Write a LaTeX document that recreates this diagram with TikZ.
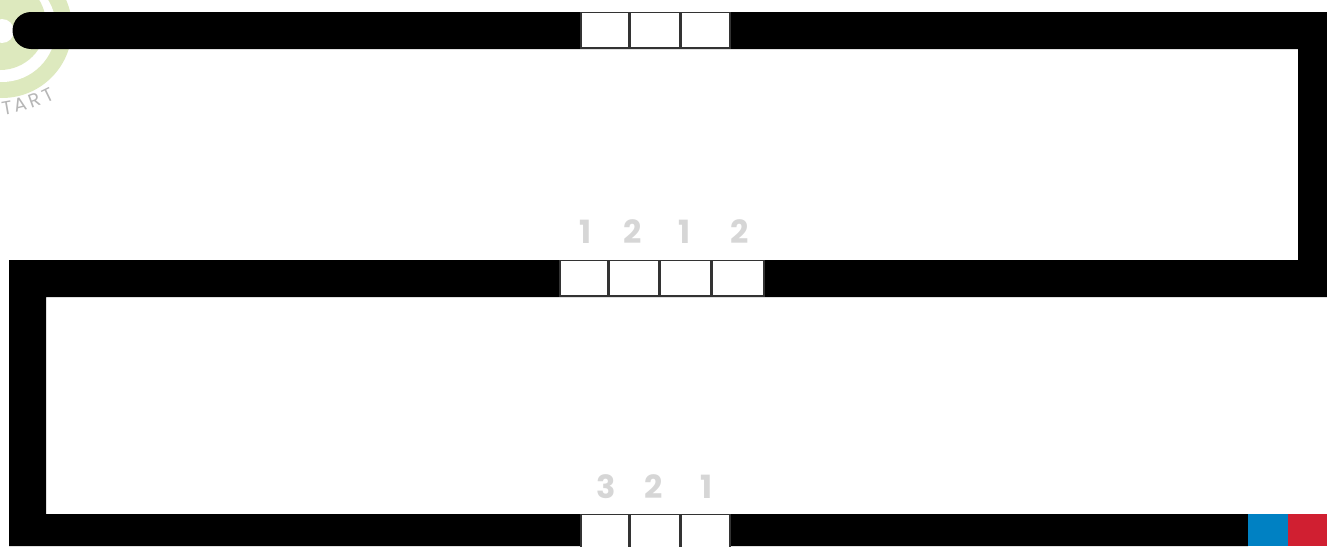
\documentclass[tikz,border=0pt]{standalone}
\usepackage{fontspec}
\setmainfont{Poppins}
\definecolor{ringgreen}{HTML}{DDE9BE}
\definecolor{digitgray}{HTML}{D6D6D6}
\definecolor{edgegray}{HTML}{333333}
\definecolor{padblue}{HTML}{0081C3}
\definecolor{padred}{HTML}{D01F31}
\begin{document}
\begin{tikzpicture}[x=0.5pt,y=-0.5pt,line width=0.5pt,
  cell/.style={draw=edgegray,fill=white,line width=0.7pt},
  digit/.style={text=digitgray,font=\bfseries\fontsize{16}{16}\selectfont,inner sep=0pt,anchor=base},
  letter/.style={text=digitgray!85!black,font=\fontsize{9.5}{9.5}\selectfont,inner sep=0pt}]
 \useasboundingbox (0,0) rectangle (1327,546);
 % start mark
 \fill[ringgreen] (2,28) circle (70);
 \fill[white] (2,28) circle (54);
 \fill[ringgreen] (0,24) circle (46);
 \fill[white] (2,31) circle (12);
 \node[letter,rotate=10] (s1) at (7,108) {T};
 \node[letter,rotate=14] (s2) at (20,105) {A};
 \node[letter,rotate=20] (s3) at (35,100) {R};
 \node[letter,rotate=26] (s4) at (48,95) {T};
 % track
 \fill[black] (31,12)--(1327,12)--(1327,297)--(46,297)--(46,514)--(1248,514)
   --(1248,546)--(9,546)--(9,260)--(1298,260)--(1298,49)--(31,49)
   arc (90:270:18.5)--cycle;
 % pads
 \fill[padblue] (1248,514) rectangle (1288,546);
 \fill[padred] (1288,514) rectangle (1327,546);
 % top row
 \draw[cell] (581,12.5) rectangle (629,48);
 \draw[cell] (630,12.5) rectangle (680,48);
 \draw[cell] (681,12.5) rectangle (730,48);
 % middle row
 \draw[cell] (560,260.5) rectangle (608,296);
 \draw[cell] (609,260.5) rectangle (659,296);
 \draw[cell] (660,260.5) rectangle (711,296);
 \draw[cell] (712,260.5) rectangle (764,296);
 \node[digit] (m1) at (586,243) {1};
 \node[digit] (m2) at (633,243) {2};
 \node[digit] (m3) at (685,243) {1};
 \node[digit] (m4) at (740,243) {2};
 % bottom row
 \draw[cell] (581,514.5) rectangle (629,550);
 \draw[cell] (630,514.5) rectangle (680,550);
 \draw[cell] (681,514.5) rectangle (730,550);
 \node[digit] (b1) at (606,498) {3};
 \node[digit] (b2) at (654,498) {2};
 \node[digit] (b3) at (707,498) {1};
\end{tikzpicture}
\end{document}
